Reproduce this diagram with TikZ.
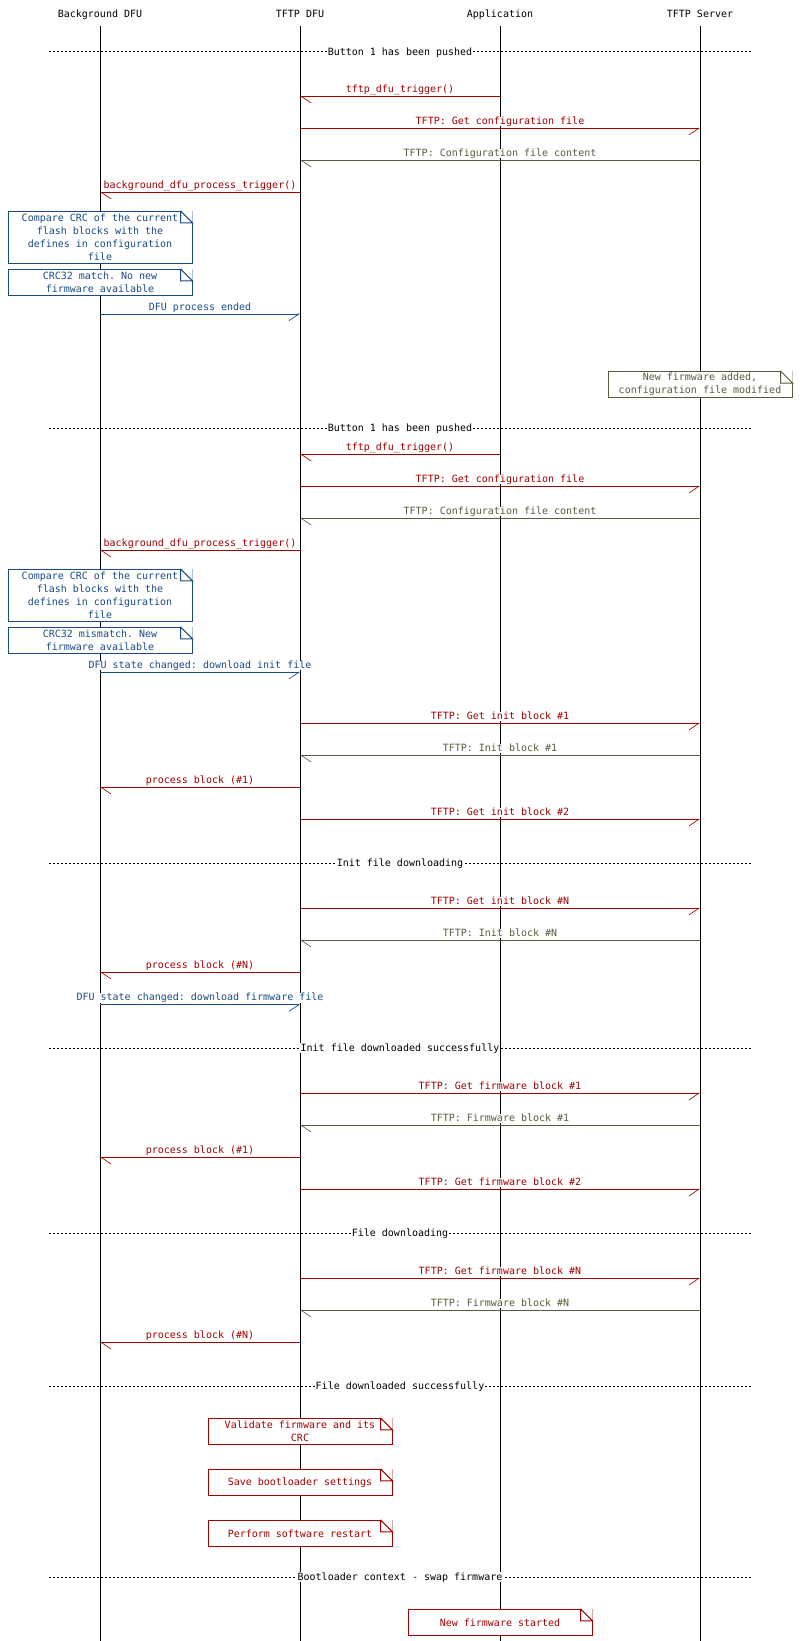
\documentclass[tikz,border=0pt]{standalone}
\usepackage{fontspec}
\setmonofont{DejaVu Sans Mono}
\usetikzlibrary{arrows.meta}
\definecolor{tred}{RGB}{160,0,0}
\definecolor{tolive}{RGB}{90,90,60}
\definecolor{tblue}{RGB}{25,75,135}
\begin{document}
\begin{tikzpicture}[x=0.75pt, y=-0.75pt,
    every node/.style={font=\ttfamily\fontsize{7.5}{9.75}\selectfont},
    head/.style={text height=5.5pt, text depth=0pt, inner sep=1pt},
    life/.style={line width=0.75pt},
    sepline/.style={line width=0.75pt, dash pattern=on 1.5pt off 1.5pt},
    septext/.style={fill=white, inner xsep=0.5pt, inner ysep=1pt, text height=5.5pt, text depth=0pt},
    msg/.style={line width=0.75pt, draw=#1, every node/.append style={text=#1, fill=white,
        above=1.1pt, inner sep=0pt, text height=5.5pt, text depth=1.5pt}},
    tol/.style={-{Straight Barb[left, length=7.5pt, width=10pt, line width=0.5pt]}},
    tor/.style={-{Straight Barb[right, length=7.5pt, width=10pt, line width=0.5pt]}},
    note/.style={draw=#1, text=#1, fill=white, line width=0.75pt, align=center,
        minimum width=138pt, minimum height=19.5pt, inner sep=1pt}]
    \useasboundingbox (0,0) rectangle (800,1641);

    % lifelines
    \node[head] (bg) at (100,14) {Background DFU};
    \node[head] (tftp) at (300,14) {TFTP DFU};
    \node[head] (app) at (500,14) {Application};
    \node[head] (srv) at (700,14) {TFTP Server};
    \coordinate (top) at (0,26);
    \coordinate (bot) at (0,1641);
    \coordinate (sl) at (49,0);
    \coordinate (sr) at (751,0);
    \foreach \l in {bg, tftp, app, srv}
        \draw[life] (\l |- top) -- (\l |- bot);

    % rows
    \foreach \n/\y in {s1/51.7, s2/428.3, s3/863.3, s4/1048.3, s5/1233.3, s6/1386, s7/1577.3,
        r1/96.3, r2/128.3, r3/160.3, r4/192.3, r5/314,
        r6/454.3, r7/486.3, r8/518.3, r9/550.3, r10/672.3,
        r11/723.3, r12/755.3, r13/787.3, r14/819.3,
        r15/908.3, r16/940.3, r17/972.3, r18/1004.7,
        r19/1093.3, r20/1125.3, r21/1157.3, r22/1189.3,
        r23/1278.3, r24/1310.3, r25/1342.3}
        \coordinate (\n) at (0,\y);

    % separators
    \draw[sepline] (sl |- s1) -- node[septext] {Button 1 has been pushed} (sr |- s1);
    \draw[sepline] (sl |- s2) -- node[septext] {Button 1 has been pushed} (sr |- s2);
    \draw[sepline] (sl |- s3) -- node[septext] {Init file downloading} (sr |- s3);
    \draw[sepline] (sl |- s4) -- node[septext] {Init file downloaded successfully} (sr |- s4);
    \draw[sepline] (sl |- s5) -- node[septext] {File downloading} (sr |- s5);
    \draw[sepline] (sl |- s6) -- node[septext] {File downloaded successfully} (sr |- s6);
    \draw[sepline] (sl |- s7) -- node[septext] {Bootloader context - swap firmware} (sr |- s7);

    % messages
    \path
        (app |- r1) edge[msg=tred, tol] node {tftp\_dfu\_trigger()} (tftp |- r1)
        (tftp |- r2) edge[msg=tred, tor] node {TFTP: Get configuration file} (srv |- r2)
        (srv |- r3) edge[msg=tolive, tol] node {TFTP: Configuration file content} (tftp |- r3)
        (tftp |- r4) edge[msg=tred, tol] node {background\_dfu\_process\_trigger()} (bg |- r4)
        (bg |- r5) edge[msg=tblue, tor] node {DFU process ended} (tftp |- r5)
        (app |- r6) edge[msg=tred, tol] node {tftp\_dfu\_trigger()} (tftp |- r6)
        (tftp |- r7) edge[msg=tred, tor] node {TFTP: Get configuration file} (srv |- r7)
        (srv |- r8) edge[msg=tolive, tol] node {TFTP: Configuration file content} (tftp |- r8)
        (tftp |- r9) edge[msg=tred, tol] node {background\_dfu\_process\_trigger()} (bg |- r9)
        (bg |- r10) edge[msg=tblue, tor] node {DFU state changed: download init file} (tftp |- r10)
        (tftp |- r11) edge[msg=tred, tor] node {TFTP: Get init block \#1} (srv |- r11)
        (srv |- r12) edge[msg=tolive, tol] node {TFTP: Init block \#1} (tftp |- r12)
        (tftp |- r13) edge[msg=tred, tol] node {process block (\#1)} (bg |- r13)
        (tftp |- r14) edge[msg=tred, tor] node {TFTP: Get init block \#2} (srv |- r14)
        (tftp |- r15) edge[msg=tred, tor] node {TFTP: Get init block \#N} (srv |- r15)
        (srv |- r16) edge[msg=tolive, tol] node {TFTP: Init block \#N} (tftp |- r16)
        (tftp |- r17) edge[msg=tred, tol] node {process block (\#N)} (bg |- r17)
        (bg |- r18) edge[msg=tblue, tor] node {DFU state changed: download firmware file} (tftp |- r18)
        (tftp |- r19) edge[msg=tred, tor] node {TFTP: Get firmware block \#1} (srv |- r19)
        (srv |- r20) edge[msg=tolive, tol] node {TFTP: Firmware block \#1} (tftp |- r20)
        (tftp |- r21) edge[msg=tred, tol] node {process block (\#1)} (bg |- r21)
        (tftp |- r22) edge[msg=tred, tor] node {TFTP: Get firmware block \#2} (srv |- r22)
        (tftp |- r23) edge[msg=tred, tor] node {TFTP: Get firmware block \#N} (srv |- r23)
        (srv |- r24) edge[msg=tolive, tol] node {TFTP: Firmware block \#N} (tftp |- r24)
        (tftp |- r25) edge[msg=tred, tol] node {process block (\#N)} (bg |- r25);

    % notes
    \node[note=tblue, minimum height=39pt] (n1) at (100,237.3)
        {Compare CRC of the current\\flash blocks with the\\defines in configuration\\file};
    \node[note=tblue] (n2) at (100,282.3) {CRC32 match. No new\\firmware available};
    \node[note=tolive] (n3) at (700,384.5) {New firmware added,\\configuration file modified};
    \node[note=tblue, minimum height=39pt] (n4) at (100,595.3)
        {Compare CRC of the current\\flash blocks with the\\defines in configuration\\file};
    \node[note=tblue] (n5) at (100,640.3) {CRC32 mismatch. New\\firmware available};
    \node[note=tred] (n6) at (300,1431.3) {Validate firmware and its\\CRC};
    \node[note=tred] (n7) at (300,1482.3) {Save bootloader settings};
    \node[note=tred] (n8) at (300,1533.3) {Perform software restart};
    \node[note=tred] (n9) at (500,1622.3) {New firmware started};
    \foreach \n/\c in {n1/tblue, n2/tblue, n3/tolive, n4/tblue, n5/tblue,
        n6/tred, n7/tred, n8/tred, n9/tred} {
        \fill[white] ([xshift=-9pt]\n.north east) -- (\n.north east) -- ([yshift=-9pt]\n.north east) -- cycle;
        \draw[\c, line width=0.75pt] ([xshift=-9pt]\n.north east) |- ([yshift=-9pt]\n.north east)
            -- ([xshift=-9pt]\n.north east);
    }
\end{tikzpicture}
\end{document}
